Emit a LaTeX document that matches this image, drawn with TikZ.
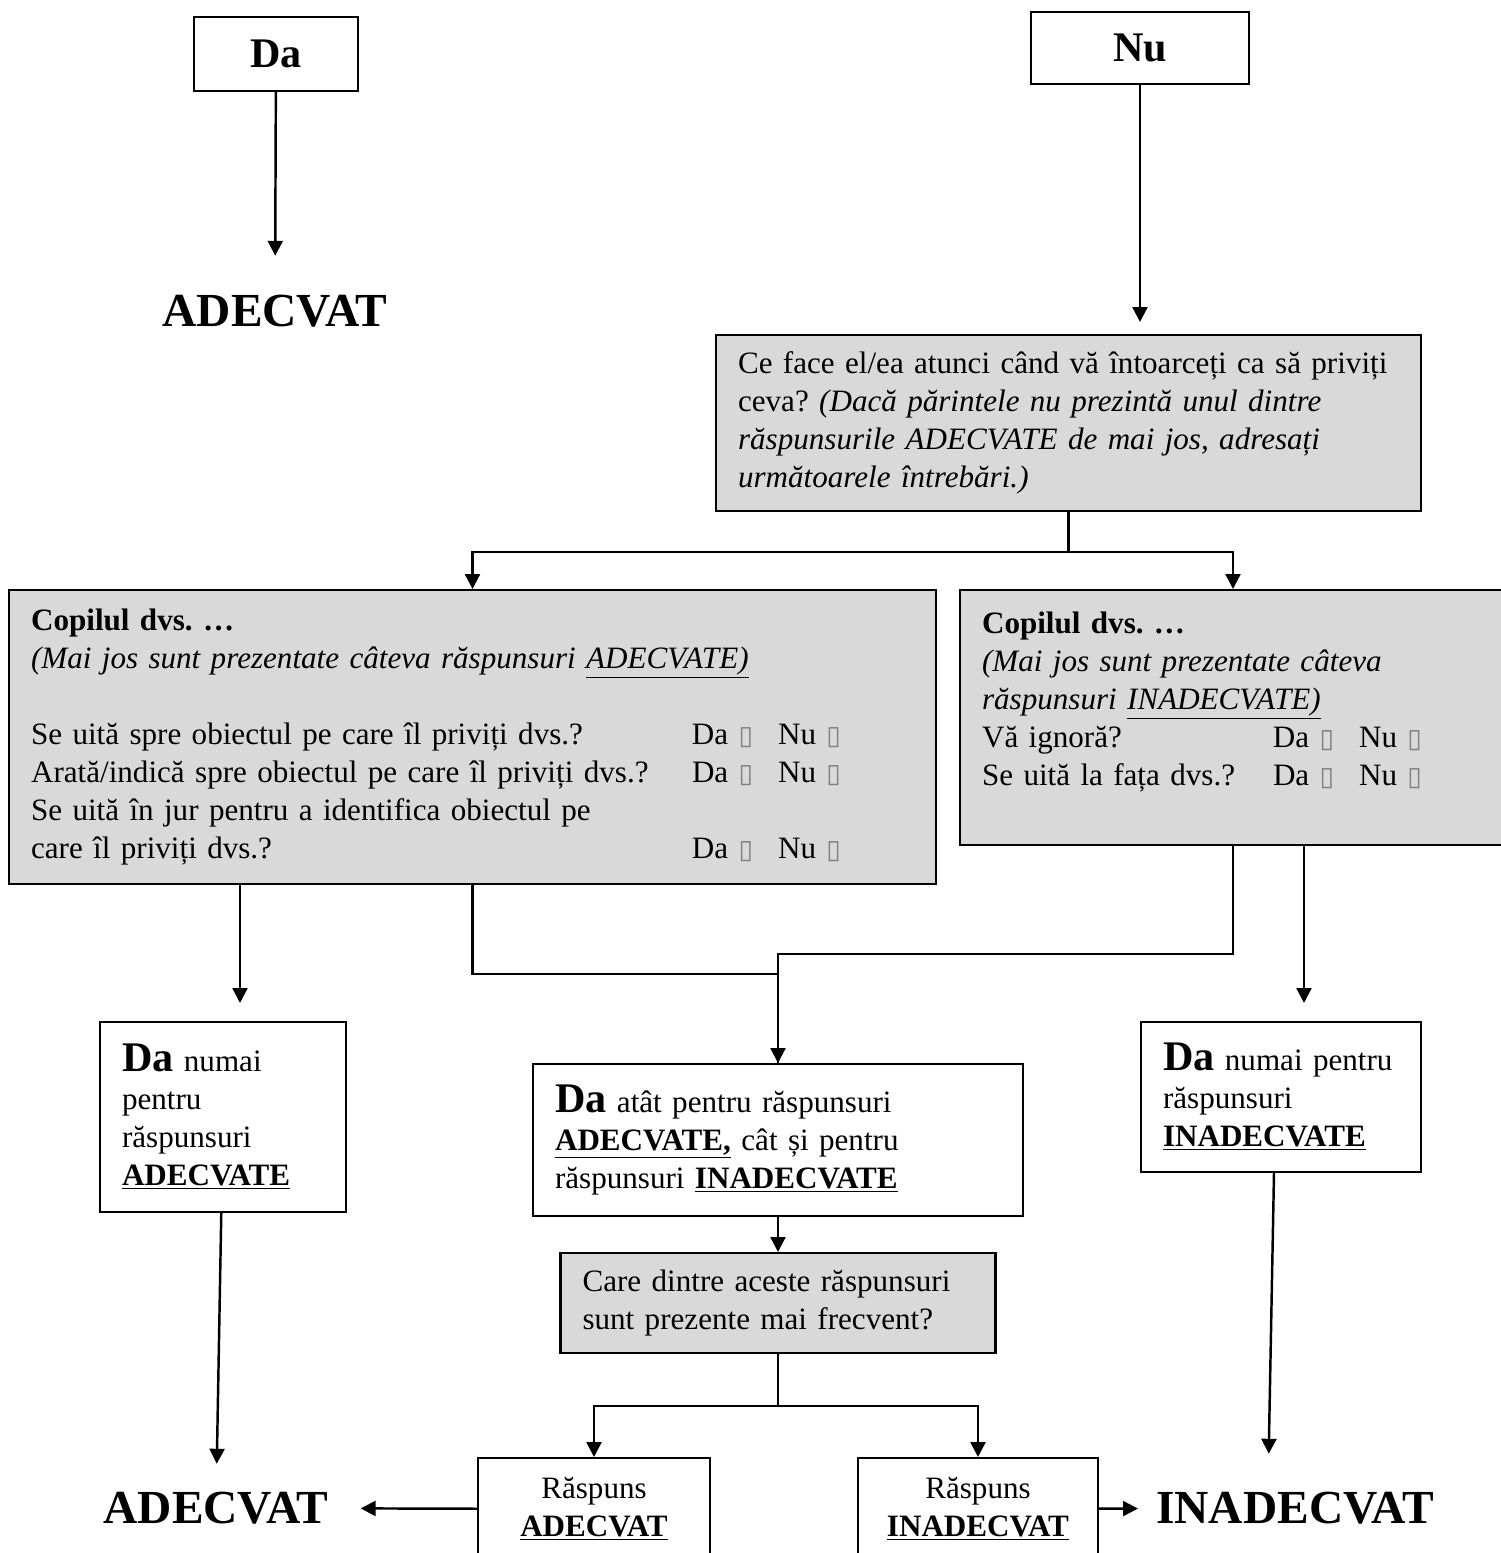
\documentclass[tikz,border=0pt]{standalone}
\usepackage{fontspec}
\setmainfont{Liberation Serif}
\newfontfamily\boxfont{DejaVu Sans}
\usetikzlibrary{arrows.meta, positioning}
\definecolor{boxgray}{HTML}{D9D9D9}
\frenchspacing
\newcommand{\cb}{{\boxfont\fontsize{15}{15}\selectfont\textcolor{gray}{▯}}}
\newcommand{\qa}[2][13.22cm]{\makebox[#1][l]{#2}Da~\cb\hspace{0.5cm}Nu~\cb}
\newcommand{\bigda}{{\fontsize{24}{21.6}\selectfont\textbf{Da}}}

\begin{document}
\begin{tikzpicture}[
    x=0.02cm, y=-0.02cm, font=\fontsize{17.7}{21.6}\selectfont,
    >={Triangle[length=8.5pt,width=8.5pt]}, line width=1.4pt,
    head/.style   ={rectangle, draw, line width=1.2pt, font=\fontsize{24}{28}\selectfont\bfseries},
    ans/.style    ={rectangle, draw, line width=1.2pt, fill=white, align=left, inner xsep=0.44cm, inner ysep=0pt},
    query/.style  ={ans, fill=boxgray},
    verdict/.style={inner sep=0pt, font=\fontsize{27}{30}\selectfont\bfseries},
]
\useasboundingbox (0,0) rectangle (1501,1553);
\clip (0,0) rectangle (1501,1553);
\node[head, minimum width=3.28cm, minimum height=1.48cm] (da) at (276,54) {Da};
\node[head, minimum width=4.36cm, minimum height=1.44cm] (nu) at (1140,48) {Nu};
\node[verdict] (adeq) at (275,311) {ADECVAT};
\node[query, text width=13.22cm, minimum height=3.52cm] (ask) at (1068.5,423) {Ce face el/ea atunci când vă întoarceți ca să priviți\\ceva? \textit{(Dacă părintele nu prezintă unul dintre}\\\textit{răspunsurile ADECVATE de mai jos, adresați}\\\textit{următoarele întrebări.)}};
\node[query, text width=17.66cm, minimum height=5.88cm] (yesq) at (472.5,737) {\textbf{Copilul dvs. …}\\
  \textit{(Mai jos sunt prezentate câteva răspunsuri \underline{ADECVATE)}}\\
  \mbox{}\\
  \qa{Se uită spre obiectul pe care îl priviți dvs.?}\\
  \qa{Arată/indică spre obiectul pe care îl priviți dvs.?}\\
  Se uită în jur pentru a identifica obiectul pe\\
  \qa{care îl priviți dvs.?}};
\node[query, text width=10.04cm, minimum height=5.1cm] (noq) at (1233,717.5) {\textbf{Copilul dvs. …}\\
  \textit{(Mai jos sunt prezentate câteva}\\
  \textit{răspunsuri \underline{INADECVATE)}}\\
  \qa[5.82cm]{Vă ignoră?}\\
  \qa[5.82cm]{Se uită la fața dvs.?}\\
  \mbox{}};
\node[ans, text width=4.04cm, minimum height=3.8cm] (onlyA) at (223,1117) {\bigda{} numai\\pentru\\răspunsuri\\\textbf{\underline{ADECVATE}}};
\node[ans, text width=8.92cm, minimum height=3.04cm] (both) at (778,1140) {\bigda{} atât pentru răspunsuri\\\textbf{\underline{ADECVATE,}} cât și pentru\\răspunsuri \textbf{\underline{INADECVATE}}};
\node[ans, text width=4.72cm, minimum height=3cm] (onlyI) at (1281,1097) {\bigda{} numai pentru\\răspunsuri\\\textbf{\underline{INADECVATE}}};
\node[query, text width=7.82cm, minimum height=2cm] (freq) at (778,1303) {Care dintre aceste răspunsuri\\sunt prezente mai frecvent?};
\node[ans, align=center, minimum width=4.64cm, minimum height=2.04cm, anchor=north] (respA) at (594,1457) {Răspuns\\\textbf{\underline{ADECVAT}}};
\node[ans, align=center, minimum width=4.8cm, minimum height=2.04cm, anchor=north] (respI) at (978,1457) {Răspuns\\\textbf{\underline{INADECVAT}}};
\node[verdict] (adeqB) at (216,1508) {ADECVAT};
\node[verdict] (inadeq) at (1295,1508) {INADECVAT};
\coordinate (tA) at ([xshift=0.34cm]onlyA.north);
\coordinate (tI) at ([xshift=0.46cm]onlyI.north);
\draw[->, shorten >=0.76cm] (da) -- (adeq);
\draw[->, shorten >=0.24cm] (nu) -- (nu |- ask.north);
\draw (ask.south) -- ++(0,40) coordinate (fork);
\draw[->] (fork) -| (yesq);
\draw[->] (fork) -| (noq);
\draw[->, shorten >=0.36cm] (tA |- yesq.south) -- (tA);
\draw (yesq.south) -- ++(0,89) -| (both);
\draw[->] (noq.south) -- ++(0,108) -| (both);
\draw[->, shorten >=0.36cm] (tI |- noq.south) -- (tI);
\draw[->, shorten >=0.54cm] (onlyA) -- (adeqB);
\draw[->, shorten >=0.74cm] ([xshift=-0.14cm]onlyI.south) -- ([xshift=-0.54cm]inadeq.north);
\draw[->] (both) -- (freq);
\draw (freq.south) -- ++(0,52) coordinate (fork2);
\draw[->] (fork2) -| (respA);
\draw[->] (fork2) -| (respI);
\draw[->, shorten >=0.62cm] (respA) -- (adeqB);
\draw[->, shorten >=0.34cm] (respI) -- (inadeq);
\end{tikzpicture}
\end{document}
